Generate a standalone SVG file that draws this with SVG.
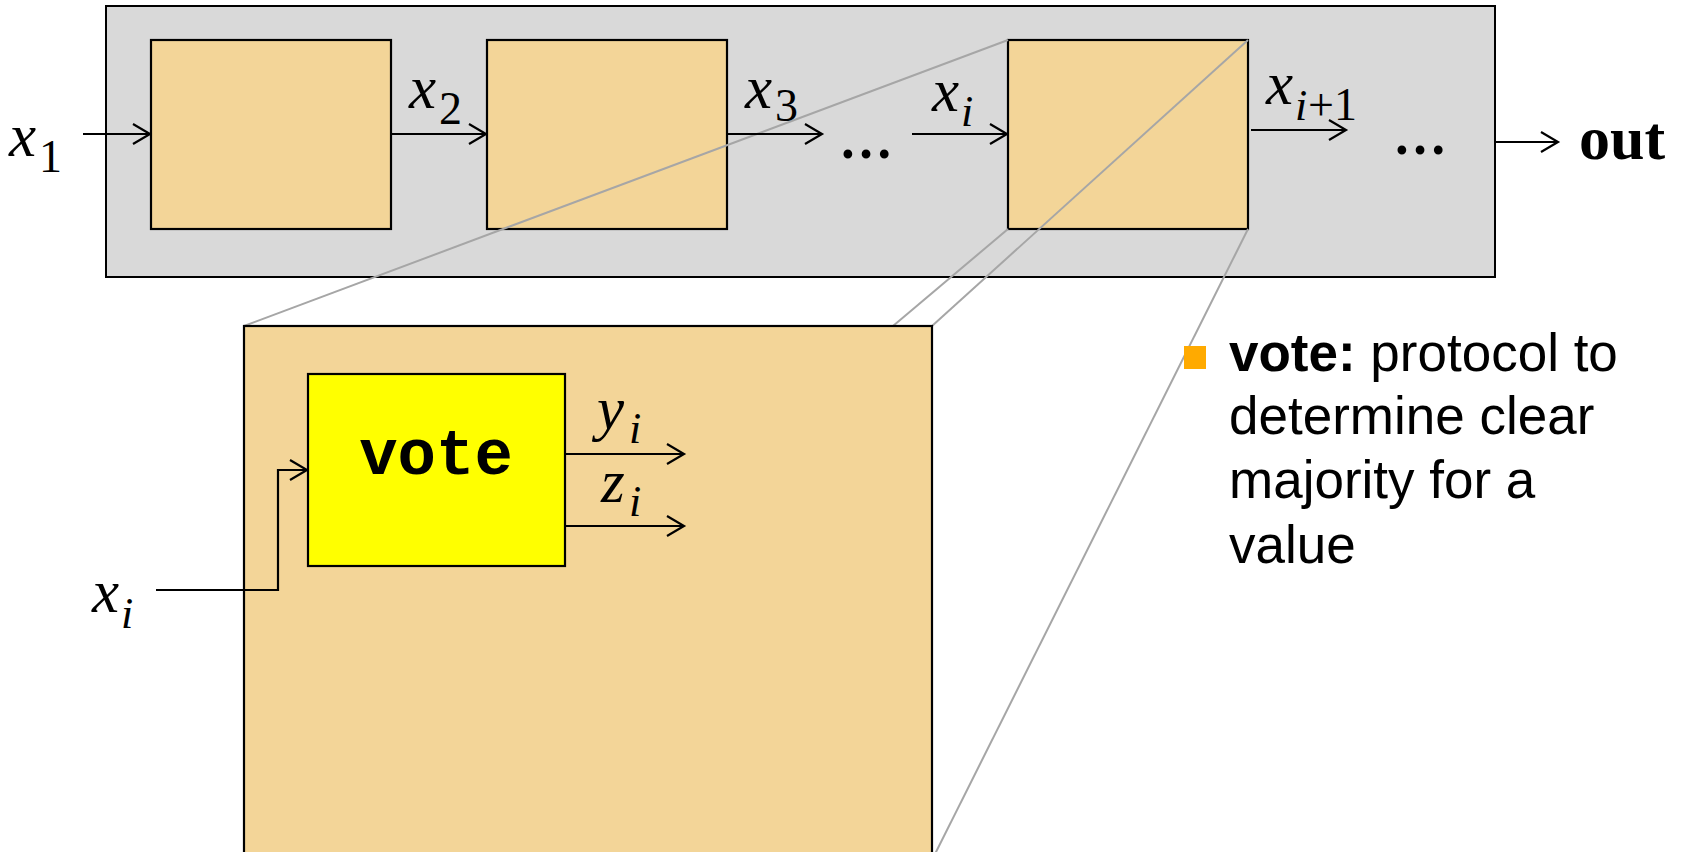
<svg xmlns="http://www.w3.org/2000/svg" width="1681" height="852" viewBox="0 0 1681 852">
<style>
.box{fill:#F3D598;stroke:#000;stroke-width:2.2}
.wire{fill:none;stroke:#000;stroke-width:2.2}
.proj{fill:none;stroke:#A6A6A6;stroke-width:2}
.m{font-family:"Liberation Serif",serif;font-style:italic;font-size:61px;fill:#000}
.s{font-family:"Liberation Serif",serif;font-size:46px;fill:#000}
.si{font-family:"Liberation Serif",serif;font-style:italic;font-size:44px;fill:#000}
.dots{font-family:"Liberation Serif",serif;font-size:54px;font-weight:bold;fill:#000}
.body{font-family:"Liberation Sans",Arial,sans-serif;font-size:53px;fill:#000}
</style>
<defs>
<marker id="ah" markerWidth="22" markerHeight="24" refX="18" refY="11" orient="auto" markerUnits="userSpaceOnUse">
<path d="M1,1 L18,11 L1,21" fill="none" stroke="#000" stroke-width="2.2"/>
</marker>
</defs>

<g id="pipeline">
<rect x="106" y="6" width="1389" height="271" fill="#D9D9D9" stroke="#000" stroke-width="2"/>
</g>
<g id="stage1"><rect class="box" x="151" y="40" width="240" height="189"/></g>
<g id="stage2"><rect class="box" x="487" y="40" width="240" height="189"/></g>
<g id="stagei"><rect class="box" x="1008" y="40" width="240" height="189"/></g>

<g id="connectors">
<line class="proj" x1="1008" y1="40" x2="244" y2="326"/>
<line class="proj" x1="1008" y1="229" x2="893" y2="326"/>
<line class="proj" x1="1248" y1="40" x2="932" y2="326"/>
<line class="proj" x1="1248" y1="229" x2="933" y2="858"/>
<line class="wire" x1="83" y1="134" x2="150" y2="134" marker-end="url(#ah)"/>
<line class="wire" x1="391" y1="134" x2="486" y2="134" marker-end="url(#ah)"/>
<line class="wire" x1="727" y1="134" x2="822" y2="134" marker-end="url(#ah)"/>
<line class="wire" x1="912" y1="134" x2="1007" y2="134" marker-end="url(#ah)"/>
<line class="wire" x1="1251" y1="130" x2="1346" y2="130" marker-end="url(#ah)"/>
<line class="wire" x1="1495" y1="142" x2="1558" y2="142" marker-end="url(#ah)"/>
</g>

<g id="detail">
<rect class="box" x="244" y="326" width="688" height="540"/>
</g>
<g id="vote">
<rect x="308" y="374" width="257" height="192" fill="#FFFF00" stroke="#000" stroke-width="2.2"/>
<text x="436" y="474" text-anchor="middle" font-family="'Liberation Mono',monospace" font-weight="bold" font-size="64">vote</text>
</g>
<g id="vote-wires">
<polyline class="wire" points="156,590 278,590 278,470 307,470" marker-end="url(#ah)"/>
<line class="wire" x1="565" y1="454" x2="684" y2="454" marker-end="url(#ah)"/>
<line class="wire" x1="565" y1="526" x2="684" y2="526" marker-end="url(#ah)"/>
</g>

<g id="labels">
<text class="m" x="9" y="156">x</text><text class="s" x="39" y="172">1</text>
<text class="m" x="409" y="108">x</text><text class="s" x="439" y="124">2</text>
<text class="m" x="745" y="108">x</text><text class="s" x="775" y="121">3</text>
<text class="m" x="932" y="111">x</text><text class="si" x="961" y="126">i</text>
<text class="m" x="1266" y="104">x</text><text class="si" x="1295" y="120">i</text><text class="s" x="1308" y="120">+1</text>
<text class="dots" x="866" y="158" text-anchor="middle">…</text>
<text class="dots" x="1420" y="154" text-anchor="middle">…</text>
<text x="1579" y="159" font-family="'Liberation Serif',serif" font-weight="bold" font-size="62">out</text>
<text class="m" x="92" y="612">x</text><text class="si" x="121" y="628">i</text>
<text class="m" x="597" y="429">y</text><text class="si" x="629" y="443">i</text>
<text class="m" x="601" y="502">z</text><text class="si" x="629" y="516">i</text>
</g>

<g id="bullet">
<rect x="1184" y="346" width="22" height="23" fill="#FFAA00"/>
<text class="body" x="1229" y="371"><tspan font-weight="bold">vote:</tspan> protocol to</text>
<text class="body" x="1229" y="434">determine clear</text>
<text class="body" x="1229" y="498">majority for a</text>
<text class="body" x="1229" y="563">value</text>
</g>
</svg>
